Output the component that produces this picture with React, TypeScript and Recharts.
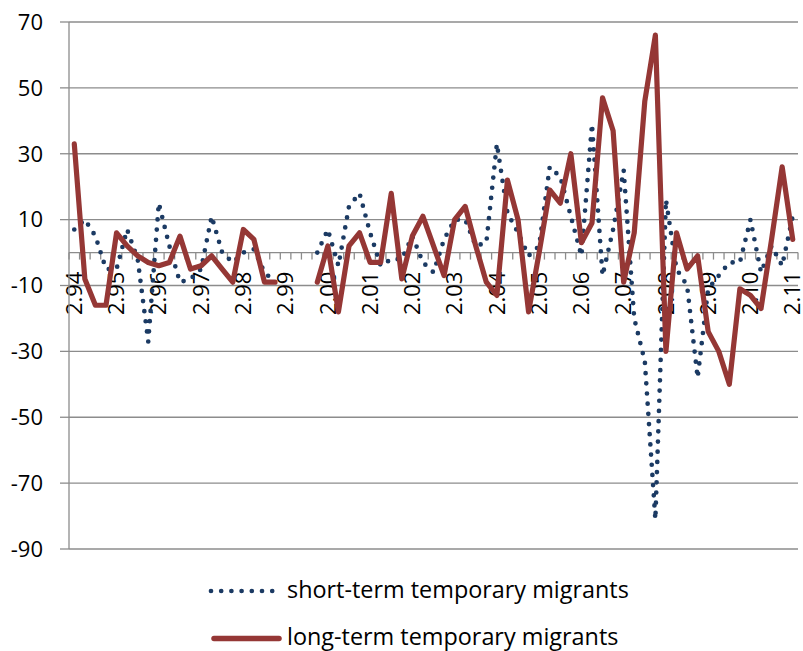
import React from 'react';
import { LineChart, Line, XAxis, YAxis, CartesianGrid, ReferenceLine, Legend } from 'recharts';

// Quarter labels: quarter.year (Q2 1994 ... Q2 2011)
const quarters = [
  '2.94', '3.94', '4.94', '1.95',
  '2.95', '3.95', '4.95', '1.96',
  '2.96', '3.96', '4.96', '1.97',
  '2.97', '3.97', '4.97', '1.98',
  '2.98', '3.98', '4.98', '1.99',
  '2.99', '3.99', '4.99', '1.00',
  '2.00', '3.00', '4.00', '1.01',
  '2.01', '3.01', '4.01', '1.02',
  '2.02', '3.02', '4.02', '1.03',
  '2.03', '3.03', '4.03', '1.04',
  '2.04', '3.04', '4.04', '1.05',
  '2.05', '3.05', '4.05', '1.06',
  '2.06', '3.06', '4.06', '1.07',
  '2.07', '3.07', '4.07', '1.08',
  '2.08', '3.08', '4.08', '1.09',
  '2.09', '3.09', '4.09', '1.10',
  '2.10', '3.10', '4.10', '1.11',
  '2.11',
];

const shortTerm: (number | null)[] = [
  7, 10, 5, -5, -5, 7, -2, -27, 15, 2,
  -9, -8, -5, 11, 0, -3, 0, 1, -6, -9,
  null, null, null, 0, 7, -4, 14, 18, 6, -4,
  -2, -2, 5, -3, -6, 4, 10, 10, 2, 3,
  33, 12, 6, -1, 2, 26, 23, 11, -1, 39,
  -7, 7, 25, -20, -33, -81, 16, -5, -10, -38,
  -11, -7, -3, -3, 10, -6, 2, -4, 11,
];

const longTerm: (number | null)[] = [
  33, -8, -16, -16, 6, 2, -1, -3, -4, -3,
  5, -5, -4, -1, -5, -9, 7, 4, -9, -9,
  null, null, null, -9, 2, -18, 2, 6, -3, -3,
  18, -8, 5, 11, 2, -7, 10, 14, 2, -9,
  -13, 22, 10, -18, 0, 19, 15, 30, 3, 9,
  47, 37, -9, 6, 46, 66, -30, 6, -5, -1,
  -24, -30, -40, -11, -13, -17, 4, 26, 4,
];

const yTicks = [-90, -70, -50, -30, -10, 10, 30, 50, 70];

const SHORT_NAME = 'short-term temporary migrants';
const LONG_NAME = 'long-term temporary migrants';
const seriesOrder = [SHORT_NAME, LONG_NAME];

const data = quarters.map((q, i) => ({ q, short: shortTerm[i], long: longTerm[i] }));

const FONT = "'Open Sans', sans-serif";
const GRID = '#8c8c8c';
const NAVY = '#1b3a63';
const RED = '#953735';
const SHORT_DASH = '0 10.2';
const SHORT_W = 4.7;

function ZeroAxis(props: any) {
  const { x1, y1, x2 } = props;
  const n = quarters.length;
  const step = (x2 - x1) / n;
  return (
    <g>
      <line x1={x1} y1={y1} x2={x2} y2={y1} stroke={GRID} strokeWidth={1.3} />
      {Array.from({ length: n + 1 }, (_, k) => (
        <line
          key={'t' + k}
          x1={x1 + k * step}
          x2={x1 + k * step}
          y1={y1}
          y2={y1 + 7}
          stroke={GRID}
          strokeWidth={1.3}
        />
      ))}
      {quarters.map((q, i) => {
        if (!q.startsWith('2.')) return null;
        const tx = x1 + (i + 0.5) * step;
        const ty = y1 + 19;
        return (
          <text
            key={'l' + i}
            x={tx}
            y={ty}
            dy="0.35em"
            textAnchor="end"
            transform={`rotate(-90 ${tx} ${ty})`}
            fontSize={22}
            fill="#000"
            fontFamily={FONT}
          >
            {q}
          </text>
        );
      })}
    </g>
  );
}

function LegendContent(props: any) {
  const payload = props.payload || [];
  const colorOf = (name: string, fallback: string) => {
    const p = payload.find((e: any) => e.value === name);
    return p && p.color ? p.color : fallback;
  };
  const rows = seriesOrder.map((name) => ({
    name,
    color: colorOf(name, name === SHORT_NAME ? NAVY : RED),
    dashed: name === SHORT_NAME,
  }));
  return (
    <svg width={803} height={102} style={{ display: 'block' }}>
      {rows.map((r, i) => {
        const cy = 42 + i * 47.5;
        return (
          <g key={r.name}>
            {r.dashed ? (
              <line x1={211} x2={276} y1={cy} y2={cy} stroke={r.color} strokeWidth={SHORT_W} strokeDasharray={SHORT_DASH} strokeLinecap="round" />
            ) : (
              <line x1={214} x2={279} y1={cy} y2={cy} stroke={r.color} strokeWidth={5.5} strokeLinecap="round" />
            )}
            <text x={287} y={cy + 6.5} fontSize={23.4} fill="#000" fontFamily={FONT}>
              {r.name}
            </text>
          </g>
        );
      })}
    </svg>
  );
}

export default function App() {
  return (
    <div style={{ position: 'absolute', left: 0, top: 0, width: 803, height: 651, background: '#fff' }}>
      <LineChart
        width={803}
        height={651}
        data={data}
        margin={{ top: 22, right: 5, bottom: 0, left: 0 }}
        style={{ fontFamily: FONT }}
      >
        <CartesianGrid vertical={false} stroke={GRID} strokeWidth={1.3} />
        <XAxis dataKey="q" scale="band" hide />
        <YAxis
          width={69}
          domain={[-90, 70]}
          ticks={yTicks}
          interval={0}
          tickSize={9}
          tickMargin={17}
          axisLine={{ stroke: GRID, strokeWidth: 1.3 }}
          tickLine={{ stroke: GRID, strokeWidth: 1.3 }}
          tick={{ fontSize: 22, fill: '#000', fontFamily: FONT }}
        />
        <ReferenceLine y={0} shape={(p: any) => <ZeroAxis {...p} />} />
        <Line
          name={SHORT_NAME}
          dataKey="short"
          stroke={NAVY}
          strokeWidth={SHORT_W}
          strokeDasharray={SHORT_DASH}
          strokeLinecap="round"
          dot={false}
          activeDot={false}
          connectNulls={false}
          isAnimationActive={false}
        />
        <Line
          name={LONG_NAME}
          dataKey="long"
          stroke={RED}
          strokeWidth={5.2}
          strokeLinejoin="round"
          strokeLinecap="round"
          dot={false}
          activeDot={false}
          connectNulls={false}
          isAnimationActive={false}
        />
        <Legend
          verticalAlign="bottom"
          align="left"
          content={<LegendContent />}
          wrapperStyle={{ left: 0, bottom: 0, width: 803, height: 102 }}
        />
      </LineChart>
    </div>
  );
}
